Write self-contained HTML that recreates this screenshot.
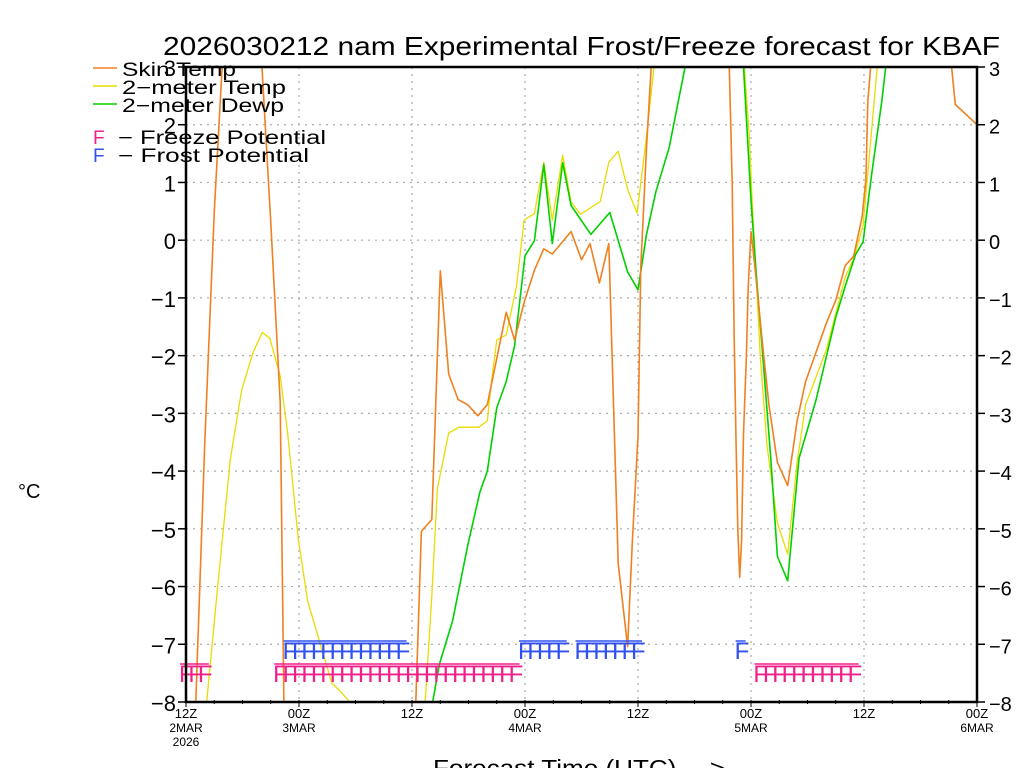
<!DOCTYPE html>
<html><head><meta charset="utf-8"><style>
html,body{margin:0;padding:0;background:#fff;width:1024px;height:768px;overflow:hidden}
svg{display:block;font-family:"Liberation Sans",sans-serif}
</style></head><body>
<svg id="chart" width="1024" height="768" viewBox="0 0 1024 768" xmlns="http://www.w3.org/2000/svg">
<defs><clipPath id="plotclip"><rect x="186" y="67" width="791" height="635"/></clipPath></defs>
<text x="163" y="55" font-size="26" textLength="837" lengthAdjust="spacingAndGlyphs">2026030212 nam Experimental Frost/Freeze forecast for KBAF</text>
<g id="grid"></g>
<g id="series" clip-path="url(#plotclip)"></g>
<g id="flags"></g>
<rect x="186" y="67" width="791" height="635" fill="none" stroke="#000" stroke-width="2.5"/>
<g id="axes"></g>
<text x="18" y="498" font-size="20">°C</text>
<text x="433" y="776" font-size="23" textLength="292" lengthAdjust="spacingAndGlyphs">Forecast Time (UTC) ---&gt;</text>
<g>
<line x1="93" y1="68" x2="117" y2="68" stroke="#f08020" stroke-width="1.5"/>
<text x="122" y="76" font-size="19" textLength="114" lengthAdjust="spacingAndGlyphs">Skin Temp</text>
<line x1="93" y1="86" x2="117" y2="86" stroke="#e8dc00" stroke-width="1.5"/>
<text x="122" y="94" font-size="19" textLength="164" lengthAdjust="spacingAndGlyphs">2−meter Temp</text>
<line x1="93" y1="104" x2="117" y2="104" stroke="#00d000" stroke-width="1.5"/>
<text x="122" y="112" font-size="19" textLength="162" lengthAdjust="spacingAndGlyphs">2−meter Dewp</text>
<text x="93" y="144" font-size="19" fill="#f0208a">F</text>
<text x="118" y="144" font-size="19" textLength="208" lengthAdjust="spacingAndGlyphs">− Freeze Potential</text>
<text x="93" y="162" font-size="19" fill="#3050f0">F</text>
<text x="118" y="162" font-size="19" textLength="191" lengthAdjust="spacingAndGlyphs">− Frost Potential</text>
</g>
</svg>
<script>
const skinHours=[0,1,2,3,4,5,7,8,9,10,10.4,11,24,24.4,25,26.1,27,27.9,28.9,29.9,31,32,34,34.9,35.9,37,38,38.9,40.9,42,42.9,43.9,44.9,45.9,46.9,47.4,48,48.3,48.9,49.4,50,57,57.7,58,58.2,58.4,58.6,58.8,59,59.2,59.5,59.7,60,60.2,60.5,61.2,61.9,62.8,63.9,64.9,65.8,68,69,70,70.9,71.8,72.2,72.4,72.7,73,81,81.3,81.7,84];
const skinVals=[-14,-8.2,-3.5,0.5,3.5,6,6,3.2,0.3,-2.8,-8,-12,-12,-8,-5.04,-4.84,-0.53,-2.32,-2.76,-2.85,-3.04,-2.85,-1.25,-1.73,-1.08,-0.52,-0.15,-0.24,0.15,-0.34,-0.06,-0.74,-0.06,-5.6,-7.04,-5.2,-3.4,-0.46,1.6,3,5,5,3,0.98,-1.6,-3.35,-5.0,-5.84,-5.2,-3.35,-2.05,-0.82,0.15,-0.14,-0.6,-1.76,-2.85,-3.85,-4.25,-3.13,-2.45,-1.44,-1.04,-0.44,-0.28,0.4,1.05,2.4,3,5,5,3,2.35,2.0];
const tempHours=[0,2.2,3.3,4.7,5.9,7.1,8.1,8.9,10,10.8,11.9,12.9,14.2,15.5,16.3,17.4,18,25,25.4,26.1,26.7,27.9,29,31.1,32,32.4,33,34,35.1,35.9,37,38,38.9,40,40.9,41.9,44,44.9,45.9,46.9,47.9,48.9,49.7,50.5,58.5,59.3,59.8,60.1,60.5,61,61.7,62.8,63.9,64.9,65.8,68,70,70.9,71.9,72.7,73.4,74,84];
const tempVals=[-14,-8,-6.1,-3.8,-2.6,-1.95,-1.6,-1.7,-2.35,-3.35,-5.15,-6.24,-6.96,-7.68,-7.8,-8,-9,-9,-8,-6.17,-4.3,-3.34,-3.24,-3.24,-3.13,-2.5,-1.73,-1.64,-0.8,0.35,0.46,1.35,0.35,1.47,0.66,0.45,0.67,1.35,1.54,0.88,0.47,1.8,3,5,5,3,1.85,0.77,-0.46,-2.05,-3.56,-4.9,-5.44,-3.85,-2.85,-1.9,-0.64,-0.32,0.26,1.7,3,5,5];
const dewpHours=[0,25,26.2,26.9,28.3,29.9,31.2,32,33,34,34.9,36,37,38,38.9,40,40.9,43,45,46.9,48,48.9,49.9,51.3,53,54,58.5,59.2,60,60.5,61.2,62.1,62.8,63.9,65.1,66.9,69,70.1,71.1,71.9,72.8,73.9,74.3,75,84];
const dewpVals=[-12,-12,-8,-7.35,-6.6,-5.3,-4.37,-4.0,-2.9,-2.45,-1.83,-0.27,-0.01,1.31,-0.06,1.34,0.6,0.1,0.48,-0.55,-0.86,0.1,0.84,1.6,3,5,5,3,0.7,-0.46,-1.9,-3.78,-5.48,-5.9,-3.78,-2.77,-1.33,-0.75,-0.25,-0.03,1.12,2.42,3,5,5];
const freezeHours=[0,1,2,10,11,12,13,14,15,16,17,18,19,20,21,22,23,24,25,26,27,28,29,30,31,32,33,34,35,61,62,63,64,65,66,67,68,69,70,71];
const frostHours=[11,12,13,14,15,16,17,18,19,20,21,22,23,36,37,38,39,40,42,43,44,45,46,47,48,59];
const yTicks=[3,2,1,0,-1,-2,-3,-4,-5,-6,-7,-8];
const xTickHours=[0,12,24,36,48,60,72,84];
const xTickLabels=["12Z","00Z","12Z","00Z","12Z","00Z","12Z","00Z"];
const xDateLabels=["2MAR","3MAR","","4MAR","","5MAR","","6MAR"];

const NS="http://www.w3.org/2000/svg";
const X0=186,X1=977,Y0=67,Y1=702,HMAX=84,VMAX=3,VMIN=-8;
function xs(h){return X0+h*(X1-X0)/HMAX;}
function ys(v){return Y0+(VMAX-v)*(Y1-Y0)/(VMAX-VMIN);}
function mk(tag,attrs,parent){const e=document.createElementNS(NS,tag);for(const k in attrs)e.setAttribute(k,attrs[k]);parent.appendChild(e);return e;}
const grid=document.getElementById('grid'),axes=document.getElementById('axes'),series=document.getElementById('series'),flags=document.getElementById('flags');
yTicks.forEach(v=>{
  const y=ys(v);
  const g=mk('line',{x1:X0,x2:X1,y1:y,y2:y,stroke:'#aaa','stroke-width':1.2,'stroke-dasharray':'2,5'},grid);
  
  
  const t1=mk('line',{x1:X0-8,x2:X0,y1:y,y2:y,stroke:'#000','stroke-width':1.5},axes);
  
  
  const t2=mk('line',{x1:X1,x2:X1+8,y1:y,y2:y,stroke:'#000','stroke-width':1.5},axes);
  
  
  const s=v<0?'−'+(-v):String(v);
  const l=mk('text',{x:X0-10,y:y+9,'font-size':22,'text-anchor':'end'},axes);l.textContent=s;
  
  
  const r=mk('text',{x:X1+12,y:y+9,'font-size':20},axes);r.textContent=s;
  
  
});
xTickHours.forEach((h,i)=>{
  const x=xs(h);
  if(i>0&&i<xTickHours.length-1){
    const g=mk('line',{x1:x,x2:x,y1:Y0,y2:Y1,stroke:'#aaa','stroke-width':1.2,'stroke-dasharray':'2,5'},grid);
    
    
  }
  const t=mk('line',{x1:x,x2:x,y1:Y1,y2:Y1+5,stroke:'#000','stroke-width':1},axes);
  
  
  const l=mk('text',{x:x,y:718,'font-size':13,'text-anchor':'middle'},axes);l.textContent=xTickLabels[i];
  
  
  if(xDateLabels[i]){
    const d=mk('text',{x:x,y:732,'font-size':12,'text-anchor':'middle'},axes);d.textContent=xDateLabels[i];
    
    
  }
});
const yr=mk('text',{x:xs(0),y:746,'font-size':12,'text-anchor':'middle'},axes);yr.textContent="2026";


for(let h=3;h<HMAX;h+=3){
  const m=mk('line',{x1:xs(h),x2:xs(h),y1:Y1-2,y2:Y1+2,stroke:'#000','stroke-width':1},axes);
  
  
}
function drawLine(hs,vs,color,w,name){
  const pts=hs.map((h,i)=>xs(h).toFixed(1)+','+ys(vs[i]).toFixed(1)).join(' ');
  const p=mk('polyline',{points:pts,fill:'none',stroke:color,'stroke-width':w,'stroke-linejoin':'round'},series);
  
  
}
drawLine(tempHours,tempVals,'#e8dc00',1.3,'temp-2m-line');
drawLine(dewpHours,dewpVals,'#00d000',1.6,'dewpoint-2m-line');
drawLine(skinHours,skinVals,'#f08020',1.6,'skin-temp-line');
function drawFlags(hs,color,top,name){
  // group consecutive hours into runs with top bar
  let runs=[],cur=[];
  hs.forEach(h=>{if(cur.length&&h!==cur[cur.length-1]+1){runs.push(cur);cur=[];}cur.push(h);});
  if(cur.length)runs.push(cur);
  runs.forEach(r=>{
    const bar=mk('line',{x1:xs(r[0])-6,x2:xs(r[r.length-1])+4,y1:top,y2:top,stroke:color,'stroke-width':1.5},flags);
    
    
  });
  hs.forEach(h=>{
    const t=mk('text',{x:xs(h)-7,y:top+18,'font-size':24,fill:color},flags);t.textContent='F';
    
    
  });
}
drawFlags(freezeHours,'#f0208a',664,'freeze');
drawFlags(frostHours,'#3050f0',641,'frost');
</script>
</body></html>
